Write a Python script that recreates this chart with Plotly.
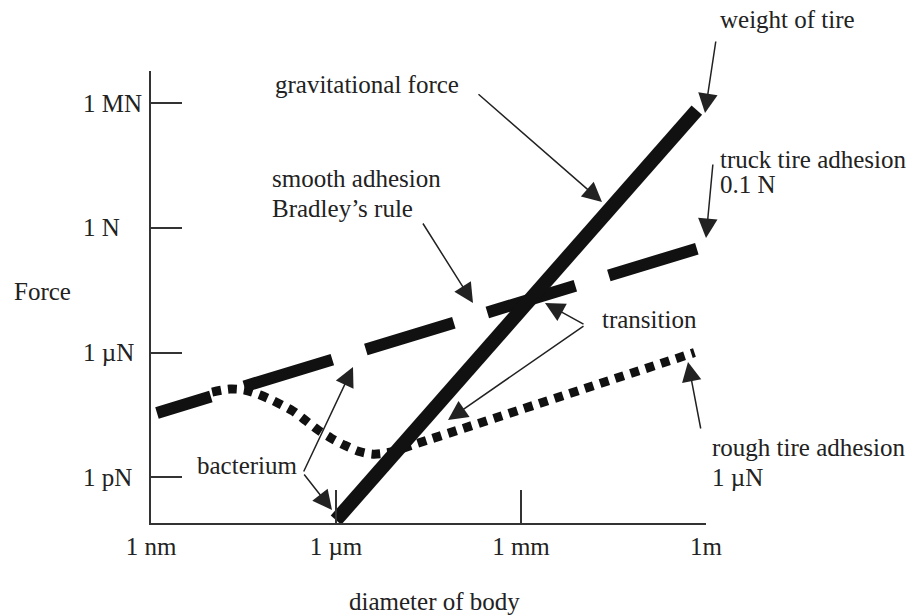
import plotly.graph_objects as go
import math

# Body diameter (m) and force (N) along each curve
gravity_d = [1.0e-6, 0.71]
gravity_f = [8.7e-15, 4.7e5]

smooth_d = [1.25e-9, 0.71]
smooth_f = [1.24e-9, 0.1]

rough_d = [9.8e-9, 1.9e-8, 3.3e-8, 5.9e-8, 1.06e-7, 2.0e-7, 3.3e-7, 5.1e-7,
           8.3e-7, 1.35e-6, 2.3e-6, 4.0e-6, 7.5e-6, 1.4e-5, 0.65]
rough_f = [1.26e-8, 1.77e-8, 1.58e-8, 9.1e-9, 4.2e-9, 1.54e-9, 5.1e-10, 1.9e-10,
           7.7e-11, 3.6e-11, 1.8e-11, 1.3e-11, 1.6e-11, 2.9e-11, 1.0e-6]

# Axis ticks
x_tick_vals = [1e-9, 1e-6, 1e-3, 1.0]
x_tick_text = ["1 nm", "1 \u00b5m", "1 mm", "1m"]
y_tick_vals = [1e-12, 1e-6, 1.0, 1e6]
y_tick_text = ["1 pN", "1 \u00b5N", "1 N", "1 MN"]

W, H = 916, 616
L, R, T, B = 151, 210, 71, 93
FONT = "Liberation Serif, Times New Roman, serif"
INK = "#222222"
FS = 25


def fx(x):
    return (x - L) / (W - L - R)


def fy(y):
    return (H - B - y) / (H - T - B)


fig = go.Figure()

fig.add_trace(go.Scatter(
    x=rough_d, y=rough_f, mode="lines",
    line=dict(color="#111111", width=9, dash="9px,7px", shape="spline", smoothing=0.8),
    cliponaxis=False, hoverinfo="skip"))

# dashes laid out from the large-body end
fig.add_trace(go.Scatter(
    x=smooth_d[::-1], y=smooth_f[::-1], mode="lines",
    line=dict(color="#111111", width=12, dash="92px,35px"),
    cliponaxis=False, hoverinfo="skip"))

fig.add_trace(go.Scatter(
    x=gravity_d, y=gravity_f, mode="lines",
    line=dict(color="#111111", width=14),
    cliponaxis=False, hoverinfo="skip"))

annotations = []


def label(text, x, y, xanchor="left"):
    annotations.append(dict(
        text=text, x=fx(x), y=fy(y), xref="paper", yref="paper",
        xanchor=xanchor, yanchor="middle", showarrow=False,
        font=dict(family=FONT, size=FS, color=INK)))


def arrow(tail, tip):
    annotations.append(dict(
        text="", x=fx(tip[0]), y=fy(tip[1]), xref="paper", yref="paper",
        ax=tail[0] - tip[0], ay=tail[1] - tip[1], axref="pixel", ayref="pixel",
        showarrow=True, arrowhead=2, arrowsize=2.6, arrowwidth=1.5,
        arrowcolor=INK, standoff=0, startstandoff=0))


label("weight of tire", 718, 19)
label("truck tire adhesion", 718, 159)
label("0.1 N", 718, 184)
label("gravitational force", 273, 84)
label("smooth adhesion", 270, 178)
label("Bradley\u2019s rule", 270, 208)
label("transition", 600, 319)
label("bacterium", 195, 465)
label("rough tire adhesion", 710, 447)
label("1 \u00b5N", 710, 477)
label("Force", 12, 291)
label("diameter of body", 434, 601, xanchor="center")

arrow((716, 40), (705, 113))
arrow((713, 163), (706, 238))
arrow((477, 93), (602, 202))
arrow((422, 222), (473, 303))
arrow((585, 325), (545, 303))
arrow((585, 325), (448, 420))
arrow((303, 473), (353, 367))
arrow((303, 473), (332, 510))
arrow((701, 430), (688, 362))

# left-aligned force tick labels
for v, t in zip(y_tick_vals, y_tick_text):
    annotations.append(dict(
        text=t, x=fx(81), y=math.log10(v), xref="paper", yref="y",
        xanchor="left", yanchor="middle", showarrow=False,
        font=dict(family=FONT, size=FS, color=INK)))

fig.update_layout(
    width=W, height=H,
    margin=dict(l=L, r=R, t=T, b=B, pad=0),
    paper_bgcolor="white", plot_bgcolor="white",
    showlegend=False,
    annotations=annotations,
    xaxis=dict(
        type="log", range=[-9, 0], showgrid=False, zeroline=False,
        showline=True, linecolor="#333333", linewidth=2,
        ticks="inside", ticklen=33, tickwidth=1.5, tickcolor="#333333",
        tickvals=x_tick_vals, ticktext=x_tick_text,
        tickfont=dict(family=FONT, size=FS, color=INK)),
    yaxis=dict(
        type="log", range=[-14.2, 7.55], showgrid=False, zeroline=False,
        showline=True, linecolor="#333333", linewidth=2,
        ticks="inside", ticklen=31, tickwidth=1.5, tickcolor="#333333",
        tickvals=y_tick_vals, showticklabels=False),
)

fig.write_html("out.html")
